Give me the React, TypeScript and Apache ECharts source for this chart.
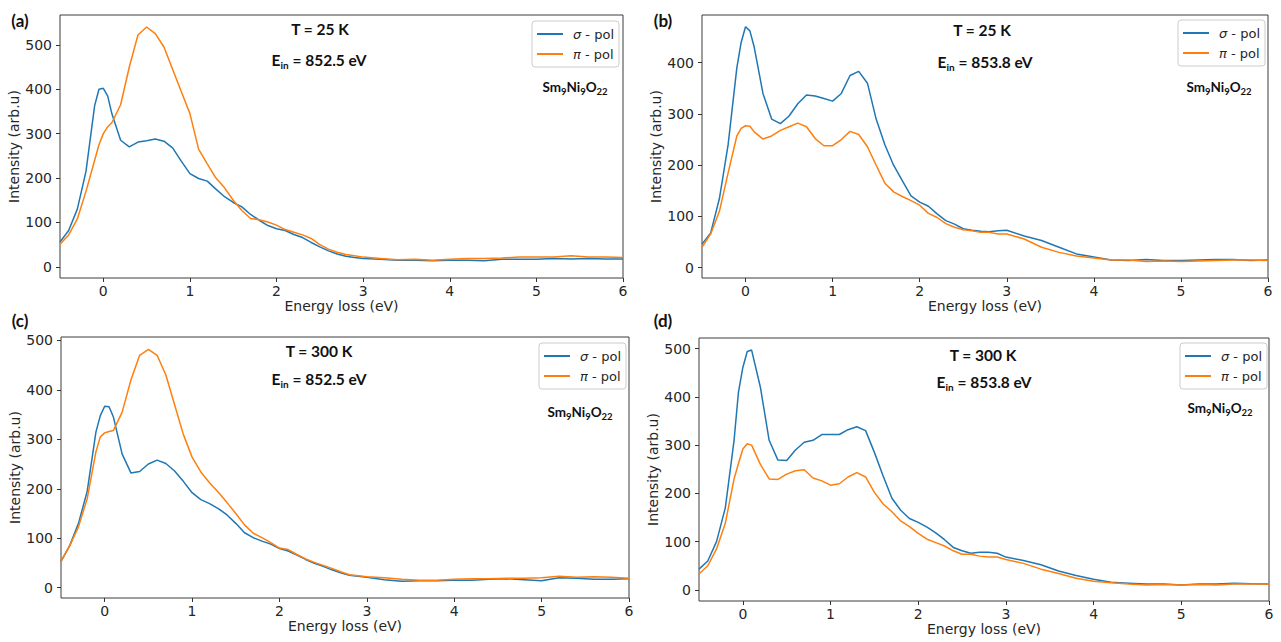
import React, { useEffect, useRef } from "react";
import * as echarts from "echarts";

// ---- Data ----
const ENERGY = [
  -0.5, -0.4, -0.3, -0.2, -0.1, -0.05, 0, 0.05, 0.1, 0.2, 0.3, 0.4, 0.5, 0.6, 0.7, 0.8, 0.9, 1.0,
  1.1, 1.2, 1.3, 1.4, 1.5, 1.6, 1.7, 1.8, 1.9, 2.0, 2.1, 2.2, 2.3, 2.4, 2.5, 2.6,
  2.7, 2.8, 2.9, 3.0, 3.2, 3.4, 3.6, 3.8, 4.0, 4.2, 4.4, 4.6, 4.8, 5.0, 5.2, 5.4,
  5.6, 5.8, 6.0,
];

// (a) T = 25 K, Ein = 852.5 eV
const A_SIGMA = [
  56, 82, 130, 215, 363, 400, 402, 385, 344, 285, 270, 281, 284, 288, 283, 268, 238, 210,
  199, 193, 175, 158, 145, 135, 118, 105, 93, 86, 82, 73, 66, 55, 45, 36,
  29, 24, 21, 19, 17, 15, 15, 14, 15, 15, 14, 17, 17, 17, 19, 18,
  19, 18, 18,
];
const A_PI = [
  51, 72, 108, 170, 240, 275, 300, 315, 325, 365, 450, 522, 540, 525, 495, 445, 395, 345,
  265, 232, 200, 178, 150, 127, 109, 106, 101, 94, 84, 78, 72, 64, 50, 40,
  33, 28, 25, 22, 19, 16, 17, 15, 17, 19, 19, 20, 22, 22, 22, 25,
  22, 22, 21,
];

// (b) T = 25 K, Ein = 853.8 eV
const B_SIGMA = [
  46, 68, 135, 240, 390, 440, 470, 462, 430, 340, 290, 281, 296, 320, 337, 335, 330, 325,
  340, 375, 383, 360, 290, 240, 200, 170, 140, 128, 120, 105, 92, 85, 76, 73,
  71, 70, 72, 73, 62, 53, 40, 27, 21, 15, 14, 16, 14, 14, 15, 16,
  16, 14, 15,
];
const B_PI = [
  40, 66, 110, 185, 257, 272, 277, 276, 265, 251, 257, 268, 275, 282, 275, 252, 238, 238,
  250, 266, 260, 236, 200, 165, 148, 139, 131, 122, 106, 98, 86, 79, 74, 72,
  69, 69, 66, 66, 56, 40, 30, 23, 19, 15, 15, 12, 13, 12, 13, 14,
  15, 15, 14,
];

// (c) T = 300 K, Ein = 852.5 eV
const C_SIGMA = [
  53, 85, 130, 195, 315, 348, 367, 366, 345, 270, 232, 235, 250, 258, 251, 236, 215, 192,
  178, 170, 160, 147, 130, 111, 101, 94, 88, 79, 74, 66, 57, 49, 43, 36,
  30, 25, 23, 21, 16, 13, 14, 14, 15, 15, 17, 18, 16, 14, 20, 19,
  17, 17, 18,
];
const C_PI = [
  53, 85, 123, 180, 275, 305, 313, 316, 318, 355, 420, 470, 482, 470, 430, 370, 310, 264,
  234, 212, 193, 172, 150, 127, 110, 101, 91, 80, 77, 67, 58, 51, 45, 39,
  32, 26, 24, 22, 20, 17, 15, 15, 17, 18, 18, 19, 19, 20, 23, 21,
  22, 21, 19,
];

// (d) T = 300 K, Ein = 853.8 eV
const D_SIGMA = [
  43, 60, 100, 170, 310, 410, 461, 494, 497, 420, 310, 269, 268, 290, 306, 310, 322, 322,
  322, 332, 338, 330, 285, 236, 190, 165, 148, 140, 130, 118, 104, 88, 81, 76,
  78, 78, 76, 68, 61, 52, 39, 30, 22, 16, 14, 12, 12, 10, 12, 12,
  14, 13, 12,
];
const D_PI = [
  33, 50, 85, 138, 230, 262, 292, 303, 300, 260, 230, 229, 240, 247, 249, 232, 226, 217,
  220, 234, 243, 234, 202, 178, 162, 143, 131, 117, 105, 98, 91, 81, 74, 74,
  70, 68, 68, 63, 55, 43, 34, 24, 18, 15, 12, 10, 11, 10, 11, 10,
  12, 12, 12,
];

const X_TICKS = [0, 1, 2, 3, 4, 5, 6];
const Y_TICKS = [0, 100, 200, 300, 400, 500];
const SIGMA = "σ - pol";
const PI = "π - pol";
const PANEL_LABELS = ["(a)", "(b)", "(c)", "(d)"];
const TEMPS = ["T = 25 K", "T = 25 K", "T = 300 K", "T = 300 K"];
const EIN = ["852.5", "853.8", "852.5", "853.8"];
const SERIES = [
  [A_SIGMA, A_PI],
  [B_SIGMA, B_PI],
  [C_SIGMA, C_PI],
  [D_SIGMA, D_PI],
];

// ---- Layout ----
const PANELS = [
  { left: 60, top: 15, width: 563, height: 263, yMin: -25, yMax: 567,
    lab: [20, 20], t: [320, 29], e: [319, 60], sm: [575, 87], leg: [532, 21] },
  { left: 702, top: 15, width: 566, height: 263, yMin: -20, yMax: 493,
    lab: [663, 20], t: [982, 30], e: [985, 62], sm: [1219, 87], leg: [1178, 20] },
  { left: 61, top: 337, width: 568, height: 261, yMin: -21, yMax: 507,
    lab: [20, 320], t: [319, 351], e: [319, 379], sm: [580, 412], leg: [539, 343] },
  { left: 699, top: 338, width: 570, height: 263, yMin: -23, yMax: 522,
    lab: [663, 320], t: [983, 355], e: [984, 382], sm: [1220, 408], leg: [1180, 343] },
];

const BLUE = "#1f77b4";
const ORANGE = "#ff7f0e";
const TICK_FONT = "DejaVu Sans";
const ANNO_FONT = "Lato";
const TXT = "#262626";

export default function App() {
  const ref = useRef<HTMLDivElement>(null);

  useEffect(() => {
    if (!ref.current) return;
    const chart = echarts.init(ref.current, undefined, { renderer: "svg" });

    const grid = PANELS.map((p) => ({
      left: p.left, top: p.top, width: p.width, height: p.height,
      show: true, borderColor: "#3d3d3d", borderWidth: 1, backgroundColor: "transparent",
    }));

    const xAxis = PANELS.map((p, i) => ({
      type: "value", gridIndex: i, min: -0.5, max: 6, position: "bottom",
      axisLine: { show: false, onZero: false },
      splitLine: { show: false },
      axisTick: { show: true, customValues: X_TICKS, length: 4, lineStyle: { color: "#333" } },
      axisLabel: { customValues: X_TICKS, margin: 6, fontSize: 14, fontFamily: TICK_FONT, color: TXT },
      name: "Energy loss (eV)", nameLocation: "middle", nameGap: 21,
      nameTextStyle: { fontSize: 14, fontFamily: TICK_FONT, color: TXT },
    }));

    const yAxis = PANELS.map((p, i) => ({
      type: "value", gridIndex: i, min: p.yMin, max: p.yMax, position: "left",
      axisLine: { show: false, onZero: false },
      splitLine: { show: false },
      axisTick: { show: true, customValues: Y_TICKS, length: 4, lineStyle: { color: "#333" } },
      axisLabel: { customValues: Y_TICKS, margin: 8, fontSize: 14, fontFamily: TICK_FONT, color: TXT },
      name: "Intensity (arb.u)", nameLocation: "middle", nameGap: 35,
      nameTextStyle: { fontSize: 14, fontFamily: TICK_FONT, color: TXT },
    }));

    const series: any[] = [];
    SERIES.forEach((pair, i) => {
      [SIGMA, PI].forEach((name, k) => {
        series.push({
          type: "line", name, xAxisIndex: i, yAxisIndex: i,
          data: ENERGY.map((x, j) => [x, pair[k][j]]),
          symbol: "none", showSymbol: false,
          lineStyle: { width: 1.5, color: k === 0 ? BLUE : ORANGE },
          itemStyle: { color: k === 0 ? BLUE : ORANGE },
          z: 2 + k,
        });
      });
    });

    const legend = PANELS.map((p) => ({
      left: p.leg[0], top: p.leg[1], orient: "vertical",
      data: [SIGMA, PI], icon: "rect", itemWidth: 26, itemHeight: 2, itemGap: 4,
      padding: [5, 5, 5, 5], borderColor: "#cccccc", borderWidth: 1, borderRadius: 3,
      backgroundColor: "rgba(255,255,255,0.8)", selectedMode: false,
      formatter: (n: string) => (n === SIGMA ? "{i|σ} - pol" : "{i|π} - pol"),
      textStyle: {
        fontFamily: TICK_FONT, fontSize: 13, color: TXT, lineHeight: 16, padding: [0, 0, 0, 5],
        rich: { i: { fontFamily: TICK_FONT, fontStyle: "italic", fontSize: 13, color: TXT, lineHeight: 16 } },
      },
    }));

    const bold = (size: number) => ({ fontFamily: ANNO_FONT, fontWeight: "bold", fontSize: size, fill: "#111", color: "#111" });
    const graphic: any[] = [];
    PANELS.forEach((p, i) => {
      graphic.push({
        type: "text", x: p.lab[0], y: p.lab[1],
        style: { text: PANEL_LABELS[i], align: "center", verticalAlign: "middle", ...bold(17) },
      });
      graphic.push({
        type: "text", x: p.t[0], y: p.t[1],
        style: { text: TEMPS[i], align: "center", verticalAlign: "middle", ...bold(15.5) },
      });
      graphic.push({
        type: "text", x: p.e[0], y: p.e[1],
        style: {
          text: `{b|E}{s|in}{b| = ${EIN[i]} eV}`, align: "center", verticalAlign: "middle",
          ...bold(15.5),
          rich: {
            b: { ...bold(15.5), lineHeight: 20 },
            s: { ...bold(10), lineHeight: 10, padding: [10, 0, 0, 0] },
          },
        },
      });
      graphic.push({
        type: "text", x: p.sm[0], y: p.sm[1],
        style: {
          text: "{b|Sm}{s|9}{b|Ni}{s|9}{b|O}{s|22}", align: "center", verticalAlign: "middle",
          ...bold(13.5),
          rich: {
            b: { ...bold(13.5), lineHeight: 18 },
            s: { ...bold(9.5), lineHeight: 9, padding: [9, 0, 0, 0] },
          },
        },
      });
    });

    chart.setOption({
      animation: false,
      backgroundColor: "#ffffff",
      grid, xAxis, yAxis, series, legend, graphic,
    } as any);

    return () => chart.dispose();
  }, []);

  return (
    <div
      ref={ref}
      style={{ position: "absolute", left: 0, top: 0, width: 1281, height: 642 }}
    />
  );
}
